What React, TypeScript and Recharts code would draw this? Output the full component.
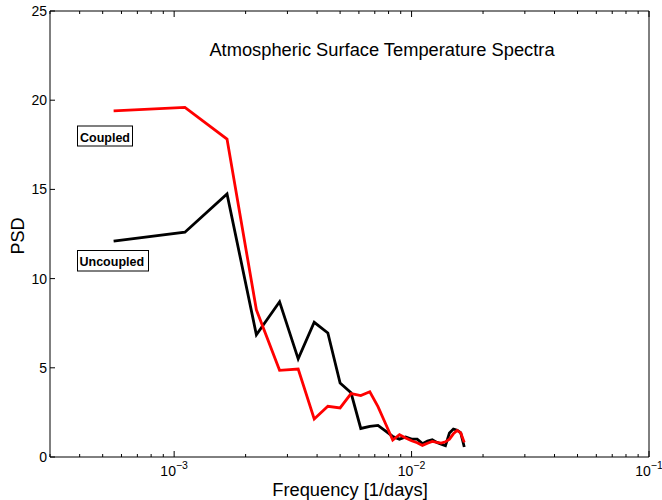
import { LineChart, Line, XAxis, YAxis } from "recharts";

// frequency [1/days]
const FREQ = [
  0.000556, 0.00111, 0.00167, 0.00222, 0.00278, 0.00333, 0.00389, 0.00444, 0.005, 0.00556,
  0.00611, 0.00667, 0.00722, 0.00778, 0.00833, 0.00889, 0.00944, 0.01, 0.01056, 0.01111,
  0.01167, 0.01222, 0.01278, 0.01333, 0.01389, 0.01444, 0.015, 0.01556, 0.01611, 0.01667,
];

const UNCOUPLED = [
  12.1, 12.6, 14.75, 6.85, 8.7, 5.5, 7.55, 6.95, 4.15, 3.6,
  1.6, 1.72, 1.77, 1.45, 1.15, 1.0, 1.12, 1.0, 1.0, 0.75,
  0.9, 0.97, 0.82, 0.72, 0.63, 1.35, 1.57, 1.5, 1.35, 0.56,
];

const COUPLED = [
  19.4, 19.6, 17.82, 8.25, 4.86, 4.93, 2.13, 2.84, 2.75, 3.55,
  3.44, 3.66, 2.82, 1.85, 0.95, 1.25, 1.06, 0.91, 0.8, 0.65,
  0.77, 0.87, 0.82, 0.78, 0.85, 1.0, 1.3, 1.49, 1.35, 0.82,
];

const X_TICKS = [
  0.0003, 0.0004, 0.0005, 0.0006, 0.0007, 0.0008, 0.0009,
  0.001, 0.002, 0.003, 0.004, 0.005, 0.006, 0.007, 0.008, 0.009,
  0.01, 0.02, 0.03, 0.04, 0.05, 0.06, 0.07, 0.08, 0.09, 0.1,
];
const Y_TICKS = [0, 5, 10, 15, 20, 25];

const data = FREQ.map((f, i) => ({ f, uncoupled: UNCOUPLED[i], coupled: COUPLED[i] }));

const FONT = "'Liberation Sans', Arial, Helvetica, sans-serif";

const isMajor = (v: number) => {
  const l = Math.log10(v);
  return Math.abs(l - Math.round(l)) < 1e-6;
};

const BottomTick = (props: any) => {
  const { x, y, payload } = props;
  const v = payload.value;
  const major = isMajor(v);
  const exp = Math.round(Math.log10(v));
  return (
    <g>
      <line x1={x} x2={x} y1={y} y2={y - (major ? 6 : 3)} stroke="#000" />
      {major && (
        <text x={x} y={y + 19} textAnchor="middle" fontSize={14} fontFamily={FONT} fill="#000">
          10
          <tspan dy={-7} fontSize={10.5}>
            {"\u2212" + Math.abs(exp)}
          </tspan>
        </text>
      )}
    </g>
  );
};

const TopTick = (props: any) => {
  const { x, y, payload } = props;
  const major = isMajor(payload.value);
  return <line x1={x} x2={x} y1={y} y2={y + (major ? 6 : 3)} stroke="#000" />;
};

const LeftTick = (props: any) => {
  const { x, y, payload } = props;
  return (
    <g>
      <line x1={x} x2={x + 5} y1={y} y2={y} stroke="#000" />
      <text x={x - 3} y={y + 5} textAnchor="end" fontSize={14} fontFamily={FONT} fill="#000">
        {payload.value}
      </text>
    </g>
  );
};

const RightTick = (props: any) => {
  const { x, y } = props;
  return <line x1={x} x2={x - 5} y1={y} y2={y} stroke="#000" />;
};

export default function App() {
  return (
    <div style={{ position: "absolute", left: 0, top: 0, width: 662, height: 500, background: "#fff" }}>
      <LineChart width={662} height={500} data={data} margin={{ top: 0, right: 0, bottom: 0, left: 0 }}>
        <XAxis
          dataKey="f"
          type="number"
          scale="log"
          domain={[0.0003, 0.1]}
          ticks={X_TICKS}
          interval={0}
          height={43}
          tickSize={0}
          tickMargin={0}
          tickLine={false}
          tick={<BottomTick />}
          axisLine={{ stroke: "#000" }}
          allowDataOverflow
        />
        <XAxis
          xAxisId="top"
          orientation="top"
          dataKey="f"
          type="number"
          scale="log"
          domain={[0.0003, 0.1]}
          ticks={X_TICKS}
          interval={0}
          height={11}
          tickSize={0}
          tickMargin={0}
          tickLine={false}
          tick={<TopTick />}
          axisLine={{ stroke: "#000" }}
          allowDataOverflow
        />
        <YAxis
          type="number"
          domain={[0, 25]}
          ticks={Y_TICKS}
          interval={0}
          width={50}
          tickSize={0}
          tickMargin={0}
          tickLine={false}
          tick={<LeftTick />}
          axisLine={{ stroke: "#000" }}
        />
        <YAxis
          yAxisId="right"
          orientation="right"
          type="number"
          domain={[0, 25]}
          ticks={Y_TICKS}
          interval={0}
          width={13}
          tickSize={0}
          tickMargin={0}
          tickLine={false}
          tick={<RightTick />}
          axisLine={{ stroke: "#000" }}
        />
        <Line
          dataKey="uncoupled"
          type="linear"
          stroke="#000"
          strokeWidth={2.8}
          dot={false}
          isAnimationActive={false}
        />
        <Line
          dataKey="coupled"
          type="linear"
          stroke="#ff0000"
          strokeWidth={2.8}
          dot={false}
          isAnimationActive={false}
        />
      </LineChart>

      {/* text overlay */}
      <svg
        width={662}
        height={500}
        style={{ position: "absolute", left: 0, top: 0, pointerEvents: "none" }}
        fontFamily={FONT}
      >
        <text x={382} y={56} textAnchor="middle" fontSize={18.3} fill="#000">
          Atmospheric Surface Temperature Spectra
        </text>
        <text x={350} y={496} textAnchor="middle" fontSize={18.3} fill="#000">
          Frequency [1/days]
        </text>
        <text
          x={0}
          y={0}
          transform="translate(24,236) rotate(-90)"
          textAnchor="middle"
          fontSize={18}
          fill="#000"
        >
          PSD
        </text>

        <rect x={77.5} y={126} width={55} height={20} fill="#fff" stroke="#000" />
        <text x={80} y={141.5} fontSize={12.5} fontWeight="bold" fill="#000">
          Coupled
        </text>
        <rect x={77.5} y={250.5} width={71} height={20.5} fill="#fff" stroke="#000" />
        <text x={79.5} y={265.5} fontSize={12.5} fontWeight="bold" fill="#000">
          Uncoupled
        </text>
      </svg>
    </div>
  );
}
